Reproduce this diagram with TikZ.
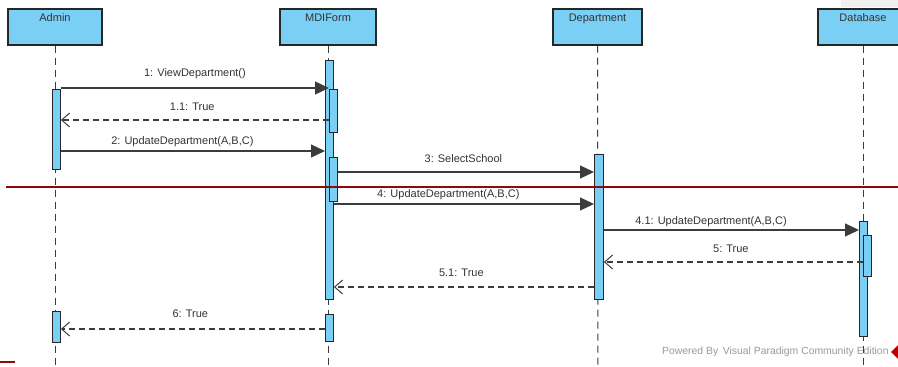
\documentclass[tikz,border=0pt]{standalone}
\usepackage{fontspec}
\setmainfont{Liberation Sans}
\usetikzlibrary{arrows.meta}
\definecolor{vpblue}{HTML}{7ACFF5}
\definecolor{lineg}{HTML}{3C3C3C}
\definecolor{darkred}{HTML}{8B0A0A}
\begin{document}
\begin{tikzpicture}[x=1pt,y=-1pt,
  lifebox/.style={draw=black!85,line width=1.1pt,fill=vpblue,rectangle,
    minimum height=36pt,inner xsep=0pt,inner ysep=4pt,text height=8pt,text depth=20pt,
    font=\fontsize{11}{12}\selectfont,text=black!80},
  bar/.style={draw=black!85,line width=0.9pt,fill=vpblue,rectangle,inner sep=0pt,anchor=north west},
  lifeline/.style={draw=lineg,line width=1pt,dash pattern=on 7pt off 5pt},
  msg/.style={draw=lineg,line width=1.1pt,-{Triangle[length=14pt,width=13pt]}},
  ret/.style={draw=lineg,line width=1.1pt,dash pattern=on 6pt off 4pt,
    -{Straight Barb[length=8pt,width=14pt,line width=1pt]}},
  lab/.style={font=\fontsize{11}{12}\selectfont,text=black!80,inner sep=0pt}]
\useasboundingbox (0,0) rectangle (898,367);
\clip (0,0) rectangle (898,367);
\fill[black!6] (841,0) rectangle (898,7);
% lifeline heads
\node[lifebox,minimum width=94pt] (admin) at (55,27) {Admin};
\node[lifebox,minimum width=96pt] (mdi) at (328,27) {MDIForm};
\node[lifebox,minimum width=89pt] (dept) at (597.5,27) {Department};
\node[lifebox,minimum width=90pt] (db) at (863,27) {Database};
% lifelines
\coordinate (adminEnd) at (55,367);
\coordinate (mdiEnd) at (328,367);
\coordinate (deptEnd) at (598,367);
\coordinate (dbEnd) at (863,367);
\draw[lifeline] (admin.south) -- (adminEnd);
\draw[lifeline] (mdi.south) -- (mdiEnd);
\draw[lifeline] (dept.south) -- (deptEnd);
\draw[lifeline] (db.south) -- (dbEnd);
% activation bars
\node[bar,minimum width=8pt,minimum height=239pt] (m0) at (325,60) {};
\node[bar,minimum width=8pt,minimum height=43pt] (m1) at (329,89) {};
\node[bar,minimum width=8pt,minimum height=44pt] (m2) at (329,157) {};
\node[bar,minimum width=8pt,minimum height=27pt] (m3) at (325,314) {};
\node[bar,minimum width=8pt,minimum height=80pt] (a0) at (52,89) {};
\node[bar,minimum width=8pt,minimum height=31pt] (a1) at (52,311) {};
\node[bar,minimum width=9pt,minimum height=145pt] (d0) at (594,154) {};
\node[bar,minimum width=8pt,minimum height=115pt] (b0) at (859,221) {};
\node[bar,minimum width=8pt,minimum height=41pt] (b1) at (863,235) {};
% messages
\draw[msg] (a0.east |- 0,88) -- node[lab,pos=0.5,yshift=14pt]{1: ViewDepartment()} (m1.west |- 0,88);
\draw[ret] (m1.west |- 0,120) -- node[lab,pos=0.51,yshift=13pt]{1.1: True} (a0.east |- 0,120);
\draw[msg] (a0.east |- 0,151) -- node[lab,pos=0.46,yshift=9pt]{2: UpdateDepartment(A,B,C)} (m0.west |- 0,151);
\draw[msg] (m2.east |- 0,172) -- node[lab,pos=0.49,yshift=13pt]{3: SelectSchool} (d0.west |- 0,172);
\draw[msg] (m0.east |- 0,204) -- node[lab,pos=0.44,yshift=9pt]{4: UpdateDepartment(A,B,C)} (d0.west |- 0,204);
\draw[msg] (d0.east |- 0,230) -- node[lab,pos=0.42,yshift=8pt]{4.1: UpdateDepartment(A,B,C)} (b0.west |- 0,230);
\draw[ret] (b1.west |- 0,262) -- node[lab,pos=0.51,yshift=13pt]{5: True} (d0.east |- 0,262);
\draw[ret] (d0.west |- 0,287) -- node[lab,pos=0.51,yshift=14pt]{5.1: True} (m0.east |- 0,287);
\draw[ret] (m3.west |- 0,329) -- node[lab,pos=0.51,yshift=15pt]{6: True} (a1.east |- 0,329);
% red rules
\draw[darkred,line width=2pt] (6,187) -- (898,187);
\draw[darkred,line width=2pt] (0,362) -- (15,362);
% watermark
\node[font=\fontsize{10.4}{12}\selectfont,text=black!40,inner sep=0pt,anchor=west] (wm) at (662,352) {Powered By\, Visual Paradigm Community Edition};
\fill[red!75!black] (891,352) -- (898,345) -- (905,352) -- (898,359) -- cycle;
\end{tikzpicture}
\end{document}
